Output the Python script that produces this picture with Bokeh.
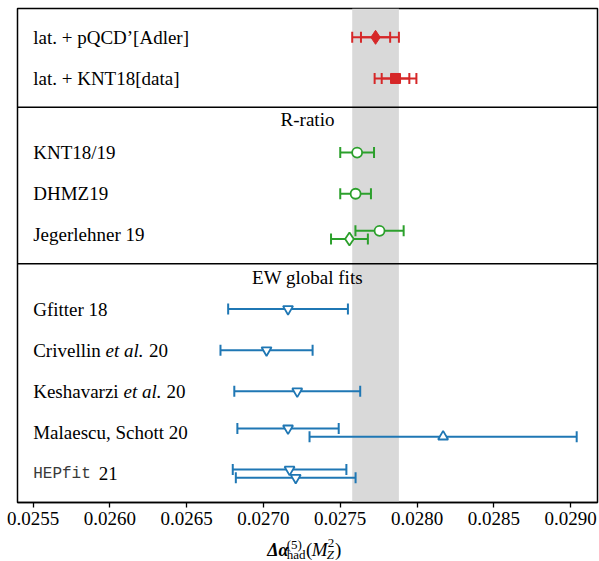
from bokeh.plotting import figure
from bokeh.layouts import column
from bokeh.models import (Range1d, FixedTicker, PrintfTickFormatter, ColumnDataSource,
                          Whisker, TeeHead, BoxAnnotation, Span)
from bokeh.core.properties import value
from bokeh.embed import file_html
from bokeh.resources import INLINE

# ---------------- data ----------------
# lattice-based results (value, inner error, total error)
lat_names = ["lat. + pQCD’[Adler]", "lat. + KNT18[data]"]
lat_val = [0.02773, 0.02786]
lat_err_in = [0.000095, 0.00009]
lat_err_out = [0.000152, 0.000136]
lat_row = [0.7, 1.7]

# R-ratio (data-driven) results
rr_names = ["KNT18/19", "DHMZ19", "Jegerlehner 19"]
rr_val = [0.02761, 0.02760, 0.027756, 0.02756]
rr_err = [0.00011, 0.00010, 0.000157, 0.00012]
rr_row = [3.5, 4.5, 5.4, 5.6]
rr_label_row = [3.5, 4.5, 5.5]
rr_marker = ["circle", "circle", "circle", "diamond"]

# EW global fits
ew_names = ["Gfitter 18", "Crivellin et al. 20", "Keshavarzi et al. 20",
            "Malaescu, Schott 20", "HEPfit 21"]
ew_val = [0.02716, 0.02702, 0.02722, 0.02716, 0.02817, 0.02717, 0.02721]
ew_err = [0.00039, 0.00030, 0.00041, 0.00033, 0.00087, 0.00037, 0.00039]
ew_row = [7.3, 8.3, 9.3, 10.2, 10.4, 11.2, 11.4]
ew_label_row = [7.3, 8.3, 9.3, 10.3, 11.3]
ew_marker = ["inverted_triangle"] * 4 + ["triangle"] + ["inverted_triangle"] * 2

x_ticks = [0.0255, 0.0260, 0.0265, 0.0270, 0.0275, 0.0280, 0.0285, 0.0290]

# ---------------- layout ----------------
W, H = 599, 561
H1 = 533                      # main figure height, label strip below
FL, FR, FT, FB = 17, 597, 8, 502
X0, X1 = 0.025398, 0.0291755
Y0, Y1 = 0.0, 12.0

def dx(px):
    return X0 + (px - FL) / (FR - FL) * (X1 - X0)

def dy(py):
    return Y0 + (py - FT) / (FB - FT) * (Y1 - Y0)

SERIF = "Liberation Serif"
MONO = "Liberation Mono"
RED, GREEN, BLUE = "#d62728", "#2ca02c", "#1f77b4"

p = figure(width=W, height=H1, output_backend="svg", toolbar_location=None,
           x_range=Range1d(X0, X1), y_range=Range1d(Y1, Y0),
           y_axis_location=None,
           min_border_left=FL, min_border_right=W - FR,
           min_border_top=FT, min_border_bottom=H1 - FB)
p.background_fill_color = "white"
p.border_fill_color = "white"
p.outline_line_color = "black"
p.outline_line_width = 1.5
p.xgrid.visible = False
p.ygrid.visible = False

ax = p.xaxis[0]
ax.ticker = FixedTicker(ticks=x_ticks)
ax.formatter = PrintfTickFormatter(format="%.4f")
ax.major_label_text_font = SERIF
ax.major_label_text_font_size = "19px"
ax.major_label_text_color = "black"
ax.major_label_standoff = 4
ax.major_tick_in = 0
ax.major_tick_out = 5
ax.major_tick_line_width = 1.3
ax.minor_tick_line_color = None
ax.axis_line_width = 1.5
ax.axis_line_color = "black"

# grey band = total uncertainty of lat. + pQCD'[Adler]
band = BoxAnnotation(left=lat_val[0] - lat_err_out[0], right=lat_val[0] + lat_err_out[0],
                     fill_color="#d9d9d9", fill_alpha=1.0, line_alpha=0, level="underlay")
p.add_layout(band)

# section dividers
for ypx in (106.7, 263.3):
    p.add_layout(Span(location=dy(ypx), dimension="width", line_color="black",
                      line_width=1.5))

def add_whisker(vals, errs, rows, color, lw=2, size=11):
    src = ColumnDataSource(dict(y=rows,
                                lo=[v - e for v, e in zip(vals, errs)],
                                hi=[v + e for v, e in zip(vals, errs)]))
    w = Whisker(source=src, base="y", lower="lo", upper="hi", dimension="width",
                line_color=color, line_width=lw, level="underlay",
                lower_head=TeeHead(size=size, line_color=color, line_width=lw),
                upper_head=TeeHead(size=size, line_color=color, line_width=lw))
    p.add_layout(w)

# lattice
add_whisker(lat_val, lat_err_out, lat_row, RED)
add_whisker(lat_val, lat_err_in, lat_row, RED)
p.scatter([lat_val[0]], [lat_row[0]], marker="diamond", size=14,
          fill_color=RED, line_color=RED, line_width=1)
p.scatter([lat_val[1]], [lat_row[1]], marker="square", size=10,
          fill_color=RED, line_color=RED, line_width=1)

# R-ratio
add_whisker(rr_val, rr_err, rr_row, GREEN)
rr_src = ColumnDataSource(dict(x=rr_val, y=rr_row, m=rr_marker,
                               s=[10 if m == "circle" else 13 for m in rr_marker]))
p.scatter("x", "y", source=rr_src, marker="m", size="s", fill_color="white",
          line_color=GREEN, line_width=1.8)

# EW fits
add_whisker(ew_val, ew_err, ew_row, BLUE)
ew_src = ColumnDataSource(dict(x=ew_val, y=ew_row, m=ew_marker))
p.scatter("x", "y", source=ew_src, marker="m", size=10, fill_color="white",
          line_color=BLUE, line_width=1.8)

# ---------------- texts ----------------
def txt(fig, x, y, text, size="19px", style="normal", font=SERIF, align="left",
        color="black"):
    fig.text(x=[x], y=[y], text=[text], text_font=value(font),
             text_font_size=size, text_font_style=style,
             text_align=align, text_baseline="middle", text_color=color)

LX = dx(32.7)
txt(p, LX, lat_row[0], lat_names[0])
txt(p, LX, lat_row[1], lat_names[1])
txt(p, dx(307), dy(118.5), "R-ratio", align="center")
for name, r in zip(rr_names, rr_label_row):
    txt(p, LX, r, name)
txt(p, dx(307), dy(277), "EW global fits", align="center")
txt(p, LX, ew_label_row[0], ew_names[0])
txt(p, LX, ew_label_row[1], "Crivellin")
txt(p, dx(105), ew_label_row[1], "et al.", style="italic")
txt(p, dx(148.5), ew_label_row[1], "20")
txt(p, LX, ew_label_row[2], "Keshavarzi")
txt(p, dx(123), ew_label_row[2], "et al.", style="italic")
txt(p, dx(166), ew_label_row[2], "20")
txt(p, LX, ew_label_row[3], ew_names[3])
txt(p, LX, ew_label_row[4], "HEPfit", font=MONO, size="16px", color="#3a3a3a")
txt(p, dx(98.3), ew_label_row[4], "21")

# ---------------- x-axis label strip:  Δα_had^(5)(M_Z^2) ----------------
H2 = H - H1
q = figure(width=W, height=H2, output_backend="svg", toolbar_location=None,
           x_range=Range1d(0, W), y_range=Range1d(H2, 0),
           x_axis_location=None, y_axis_location=None, min_border=0)
q.outline_line_color = None
q.background_fill_color = "white"
q.border_fill_color = "white"
q.xgrid.visible = False
q.ygrid.visible = False

def sy(cy):  # canvas y -> strip y
    return cy - H1

SH = -6
txt(q, 264 + SH, sy(549), "Δα", style="bold italic", size="18px")
txt(q, 284 + SH, sy(543.5), "(5)", size="13px")
txt(q, 284 + SH, sy(554), "had", size="13px")
txt(q, 304 + SH, sy(549), "(")
txt(q, 310 + SH, sy(549), "M", style="italic")
txt(q, 326.5 + SH, sy(542.5), "2", size="13px")
txt(q, 325.5 + SH, sy(554), "Z", size="13px", style="italic")
txt(q, 334 + SH, sy(549), ")")

layout = column(p, q, spacing=0)
open("out.html", "w").write(file_html(layout, INLINE))
